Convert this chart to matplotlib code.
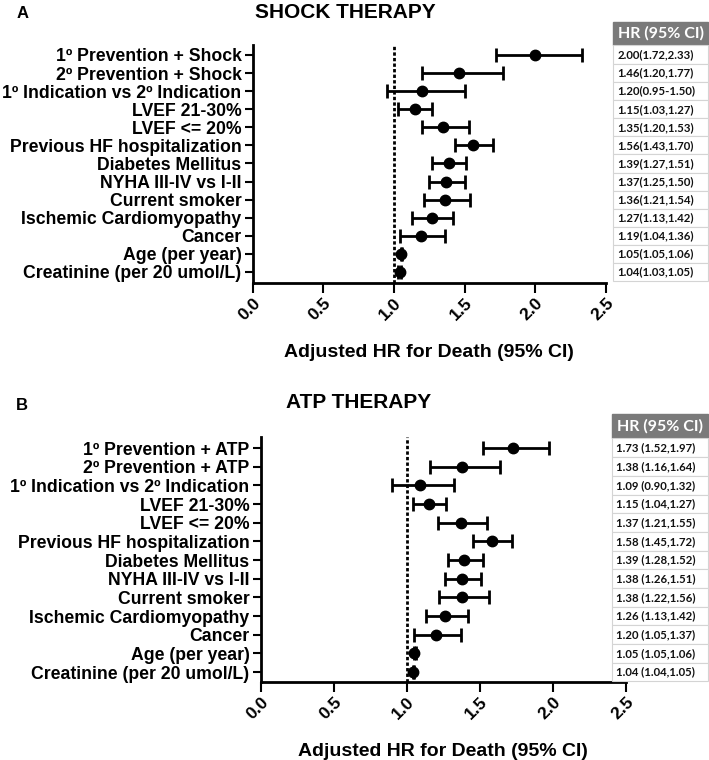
import matplotlib
matplotlib.use("Agg")
import matplotlib.pyplot as plt
from matplotlib.patches import Rectangle

plt.rcParams["font.family"] = ["Liberation Sans", "DejaVu Sans"]

labels_shock = [
    "1º Prevention + Shock",
    "2º Prevention + Shock",
    "1º Indication vs 2º Indication",
    "LVEF 21-30%",
    "LVEF <= 20%",
    "Previous HF hospitalization",
    "Diabetes Mellitus",
    "NYHA III-IV vs I-II",
    "Current smoker",
    "Ischemic Cardiomyopathy",
    "Cancer",
    "Age (per year)",
    "Creatinine (per 20 umol/L)",
]
hr_shock = [2.00, 1.46, 1.20, 1.15, 1.35, 1.56, 1.39, 1.37, 1.36, 1.27, 1.19, 1.05, 1.04]
lo_shock = [1.72, 1.20, 0.95, 1.03, 1.20, 1.43, 1.27, 1.25, 1.21, 1.13, 1.04, 1.05, 1.03]
hi_shock = [2.33, 1.77, 1.50, 1.27, 1.53, 1.70, 1.51, 1.50, 1.54, 1.42, 1.36, 1.06, 1.05]
table_shock = [
    "2.00(1.72,2.33)", "1.46(1.20,1.77)", "1.20(0.95-1.50)", "1.15(1.03,1.27)",
    "1.35(1.20,1.53)", "1.56(1.43,1.70)", "1.39(1.27,1.51)", "1.37(1.25,1.50)",
    "1.36(1.21,1.54)", "1.27(1.13,1.42)", "1.19(1.04,1.36)", "1.05(1.05,1.06)",
    "1.04(1.03,1.05)",
]

labels_atp = [
    "1º Prevention + ATP",
    "2º Prevention + ATP",
    "1º Indication vs 2º Indication",
    "LVEF 21-30%",
    "LVEF <= 20%",
    "Previous HF hospitalization",
    "Diabetes Mellitus",
    "NYHA III-IV vs I-II",
    "Current smoker",
    "Ischemic Cardiomyopathy",
    "Cancer",
    "Age (per year)",
    "Creatinine (per 20 umol/L)",
]
hr_atp = [1.73, 1.38, 1.09, 1.15, 1.37, 1.58, 1.39, 1.38, 1.38, 1.26, 1.20, 1.05, 1.04]
lo_atp = [1.52, 1.16, 0.90, 1.04, 1.21, 1.45, 1.28, 1.26, 1.22, 1.13, 1.05, 1.05, 1.04]
hi_atp = [1.97, 1.64, 1.32, 1.27, 1.55, 1.72, 1.52, 1.51, 1.56, 1.42, 1.37, 1.06, 1.05]
table_atp = [
    "1.73 (1.52,1.97)", "1.38 (1.16,1.64)", "1.09 (0.90,1.32)", "1.15 (1.04,1.27)",
    "1.37 (1.21,1.55)", "1.58 (1.45,1.72)", "1.39 (1.28,1.52)", "1.38 (1.26,1.51)",
    "1.38 (1.22,1.56)", "1.26 (1.13,1.42)", "1.20 (1.05,1.37)", "1.05 (1.05,1.06)",
    "1.04 (1.04,1.05)",
]

xticks = [0.0, 0.5, 1.0, 1.5, 2.0, 2.5]
W, H = 709, 760


def fpos(x0, y0, x1, y1):
    # pixel box -> figure fraction
    return [x0 / W, 1 - y1 / H, (x1 - x0) / W, (y1 - y0) / H]


def forest(fig, box, labels, hr, lo, hi, ylim):
    ax = fig.add_axes(fpos(*box))
    y = list(range(len(labels)))
    xerr = [[h - l for h, l in zip(hr, lo)], [u - h for h, u in zip(hr, hi)]]
    ax.errorbar(hr, y, xerr=xerr, fmt="o", color="black", ms=7.5,
                elinewidth=2, capsize=5, capthick=2, zorder=3)
    ax.axvline(1.0, color="black", lw=2, ls=(0, (1.2, 0.8)), zorder=1)
    ax.set_ylim(*ylim)
    ax.set_xlim(0, 2.5)
    ax.set_yticks(y)
    ax.set_yticklabels(labels, fontsize=12.7, fontweight="bold")
    ax.set_xticks(xticks)
    ax.set_xticklabels([f"{t:.1f}" for t in xticks], fontsize=12.5,
                       fontweight="bold", rotation=45, ha="right",
                       va="top", rotation_mode="anchor")
    for s in ["top", "right"]:
        ax.spines[s].set_visible(False)
    for s in ["left", "bottom"]:
        ax.spines[s].set_linewidth(2)
    ax.tick_params(axis="both", width=1.5, length=6, pad=2)
    ax.tick_params(axis="x", length=7)
    ax.set_xlabel("Adjusted HR for Death (95% CI)", fontsize=14,
                  fontweight="bold", labelpad=15)
    return ax


def table(fig, box, texts, ylim):
    ax = fig.add_axes(fpos(*box))
    ax.set_xlim(0, 1)
    ax.set_ylim(*ylim)
    ax.axis("off")
    ax.add_patch(Rectangle((0, -1.8), 1, 1.25, facecolor="#7a7a7a",
                           edgecolor="#7a7a7a", clip_on=False))
    ax.text(0.5, -1.17, "HR (95% CI)", color="white", fontsize=11.5,
            fontweight="bold", family=["Lato", "DejaVu Sans"],
            ha="center", va="center", clip_on=False)
    for i, t in enumerate(texts):
        top = -0.55 if i == 0 else i - 0.5
        ax.add_patch(Rectangle((0, top), 1, i + 0.5 - top, facecolor="white",
                               edgecolor="#d4d4d4", lw=0.8, clip_on=False))
        ax.text(0.045, i, t, fontsize=8.2, fontweight="bold",
                family=["Lato", "DejaVu Sans"], color="#111111",
                ha="left", va="center", clip_on=False)


fig = plt.figure(figsize=(7.09, 7.60), dpi=100)

ylim_a = (12.61, -0.55)
forest(fig, (252.7, 45, 606, 283), labels_shock, hr_shock, lo_shock, hi_shock, ylim_a)
table(fig, (613, 45, 708, 283), table_shock, ylim_a)

ylim_b = (12.53, -0.59)
forest(fig, (260.7, 437, 626, 682), labels_atp, hr_atp, lo_atp, hi_atp, ylim_b)
table(fig, (612, 437, 708, 682), table_atp, ylim_b)

fig.text(23 / W, 1 - 13 / H, "A", fontsize=12, fontweight="bold",
         ha="center", va="center")
fig.text(22 / W, 1 - 405 / H, "B", fontsize=12, fontweight="bold",
         ha="center", va="center")
fig.text(255 / W, 1 - 13 / H, "SHOCK THERAPY", fontsize=15,
         fontweight="bold", ha="left", va="center")
fig.text(286 / W, 1 - 402 / H, "ATP THERAPY", fontsize=15,
         fontweight="bold", ha="left", va="center")

fig.savefig("out.png", dpi=100)
